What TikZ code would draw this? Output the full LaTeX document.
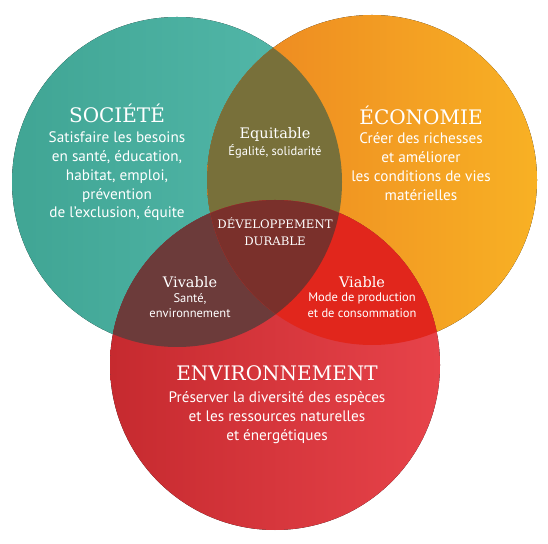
\documentclass[tikz,border=0pt]{standalone}
\usepackage{fontspec}
\setmainfont{PT Sans}
\newfontfamily\slabfont{DejaVu Serif}
\usepackage{tikz}
\usetikzlibrary{positioning}
\definecolor{SocDark}{HTML}{40A594}
\definecolor{SocLight}{HTML}{55BAAC}
\definecolor{EcoDark}{HTML}{EC8421}
\definecolor{EcoLight}{HTML}{F8B124}
\definecolor{EnvDark}{HTML}{C62A2F}
\definecolor{EnvLight}{HTML}{E7434A}
\definecolor{EquiCol}{HTML}{78703A}
\definecolor{VivaCol}{HTML}{6C3B3A}
\definecolor{ViabCol}{HTML}{E1261C}
\definecolor{DuraCol}{HTML}{7A302B}
\tikzstyle{title} = [text=white, font=\slabfont\fontsize{20}{22}\selectfont, inner sep=0pt]
\tikzstyle{subtitle} = [text=white, font=\slabfont\fontsize{14.5}{17}\selectfont, align=center, inner sep=0pt]
\tikzstyle{centre} = [text=white, font=\slabfont\fontsize{11.7}{17}\selectfont, align=center, inner sep=0pt]
\tikzstyle{body} = [text=white, align=center, font=\fontsize{15.2}{18.8}\selectfont, inner sep=0pt]
\tikzstyle{small} = [text=white, align=center, font=\fontsize{12.5}{15.5}\selectfont, inner sep=0pt]
\def\rad{165}

\begin{document}
\begin{tikzpicture}[x=1pt, y=1pt]
		\useasboundingbox (0,0) rectangle (548,543);
		\coordinate (Soc) at (177,361);
		\coordinate (Eco) at (372,363);
		\coordinate (Env) at (275,178);
		% the three circles
		\fill [left color=SocDark, right color=SocLight] (Soc) circle (\rad);
		\fill [left color=EcoDark, right color=EcoLight] (Eco) circle (\rad);
		\fill [left color=EnvDark, right color=EnvLight] (Env) circle (\rad);
		% overlaps
		\begin{scope}
			\clip (Soc) circle (\rad);
			\fill [EquiCol] (Eco) circle (\rad);
			\fill [VivaCol] (Env) circle (\rad);
		\end{scope}
		\begin{scope}
			\clip (Eco) circle (\rad);
			\fill [ViabCol] (Env) circle (\rad);
		\end{scope}
		\begin{scope}
			\clip (Soc) circle (\rad);
			\clip (Eco) circle (\rad);
			\fill [DuraCol] (Env) circle (\rad);
		\end{scope}
		% texts
		\node (SocTitle) [title] at (117,430) {SOCIÉTÉ};
		\node (SocText) [body, below = 9pt of SocTitle] {Satisfaire les besoins\\en santé, éducation,\\habitat, emploi,\\prévention\\de l'exclusion, équite};
		\node (EcoTitle) [title] at (421,428) {ÉCONOMIE};
		\node (EcoText) [body, below = 8pt of EcoTitle] {Créer des richesses\\et améliorer\\les conditions de vies\\matérielles};
		\node (EnvTitle) [title] at (277,170) {ENVIRONNEMENT};
		\node (EnvText) [body, below = 11pt of EnvTitle] {Préserver la diversité des espèces\\et les ressources naturelles\\et énergétiques};
		\node (Equitable) [subtitle] at (275,408) {Equitable};
		\node (EquiText) [small, below = 2pt of Equitable] {Égalité, solidarité};
		\node (Durable) [centre] at (275,311) {DÉVELOPPEMENT\\DURABLE};
		\node (Vivable) [subtitle] at (190,261) {Vivable};
		\node (VivaText) [small, below = 5pt of Vivable] {Santé,\\environnement};
		\node (Viable) [subtitle] at (362,261) {Viable};
		\node (ViabText) [small, below = 5pt of Viable] {Mode de production\\et de consommation};
\end{tikzpicture}
\end{document}
